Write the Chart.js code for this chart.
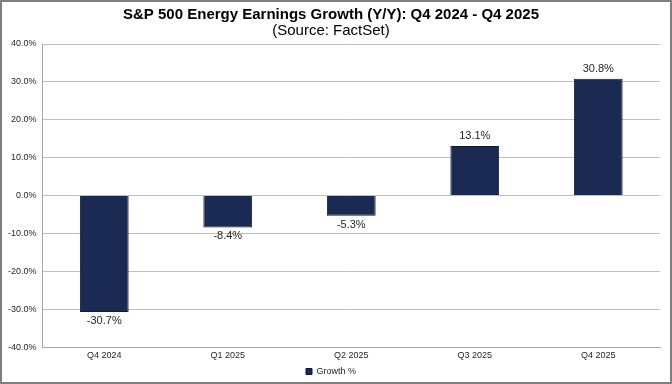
<!DOCTYPE html>
<html lang="en">
<head>
  <meta charset="UTF-8" />
  <title>S&amp;P 500 Energy Earnings Growth</title>
  <script src="https://cdn.jsdelivr.net/npm/chart.js"></script>
  <style>
    html, body {
      margin: 0;
      padding: 0;
      background: #ffffff;
    }

    .frame {
      width: 672px;
      height: 384px;
      box-sizing: border-box;
      border: 2px solid #7f7f7f;
      position: relative;
    }

    #growthChart {
      display: block;
    }
  </style>
</head>
<body>

<div class="frame">
  <canvas id="growthChart" width="668" height="380"></canvas>
</div>

<script>
  const quarters = ['Q4 2024', 'Q1 2025', 'Q2 2025', 'Q3 2025', 'Q4 2025'];
  const growth = [-30.7, -8.4, -5.3, 13.1, 30.8];
  const yTicks = [-40, -30, -20, -10, 0, 10, 20, 30, 40];

  const barColor = '#1b2a52';
  const fontFamily = '"Liberation Sans", Arial, sans-serif';

  // draws the value under negative bars and over positive ones
  const valueLabels = {
    id: 'valueLabels',
    afterDatasetsDraw(chart) {
      const ctx = chart.ctx;
      const meta = chart.getDatasetMeta(0);
      ctx.save();
      ctx.font = '11px ' + fontFamily;
      ctx.fillStyle = '#262626';
      ctx.textAlign = 'center';
      meta.data.forEach((bar, i) => {
        const v = growth[i];
        const txt = v.toFixed(1) + '%';
        if (v < 0) {
          ctx.textBaseline = 'middle';
          ctx.fillText(txt, bar.x, bar.y + 9);
        } else {
          ctx.textBaseline = 'bottom';
          ctx.fillText(txt, bar.x, bar.y - 4);
        }
      });
      ctx.restore();
    }
  };

  new Chart(document.getElementById('growthChart').getContext('2d'), {
    type: 'bar',
    data: {
      labels: quarters,
      datasets: [{
        label: 'Growth %',
        data: growth,
        backgroundColor: barColor,
        borderColor: '#101a38',
        borderWidth: 1,
        barPercentage: 0.79,
        categoryPercentage: 0.5
      }]
    },
    options: {
      responsive: false,
      animation: false,
      layout: { padding: { left: 0, right: 10, top: 0, bottom: -4 } },
      plugins: {
        title: {
          display: true,
          text: 'S&P 500 Energy Earnings Growth (Y/Y): Q4 2024 - Q4 2025',
          color: '#000000',
          font: { family: fontFamily, size: 15, weight: 'bold', lineHeight: 1 },
          padding: { top: 5, bottom: 0 }
        },
        subtitle: {
          display: true,
          text: '(Source: FactSet)',
          color: '#000000',
          font: { family: fontFamily, size: 15, lineHeight: 1 },
          padding: { top: 1, bottom: 6 }
        },
        legend: {
          position: 'bottom',
          labels: {
            boxWidth: 6,
            boxHeight: 6,
            padding: 3,
            color: '#262626',
            font: { family: fontFamily, size: 9 }
          }
        },
        tooltip: { enabled: false }
      },
      scales: {
        x: {
          grid: { display: false, drawTicks: false },
          border: { color: '#a6a6a6' },
          ticks: {
            color: '#262626',
            padding: 3,
            font: { family: fontFamily, size: 9 }
          }
        },
        y: {
          min: -40,
          max: 40,
          afterBuildTicks(axis) {
            axis.ticks = yTicks.map(v => ({ value: v }));
          },
          grid: { color: '#bfbfbf', drawTicks: false },
          border: { color: '#a6a6a6' },
          ticks: {
            color: '#262626',
            padding: 6,
            font: { family: fontFamily, size: 9 },
            callback: v => v.toFixed(1) + '%'
          }
        }
      }
    },
    plugins: [valueLabels]
  });
</script>

</body>
</html>
